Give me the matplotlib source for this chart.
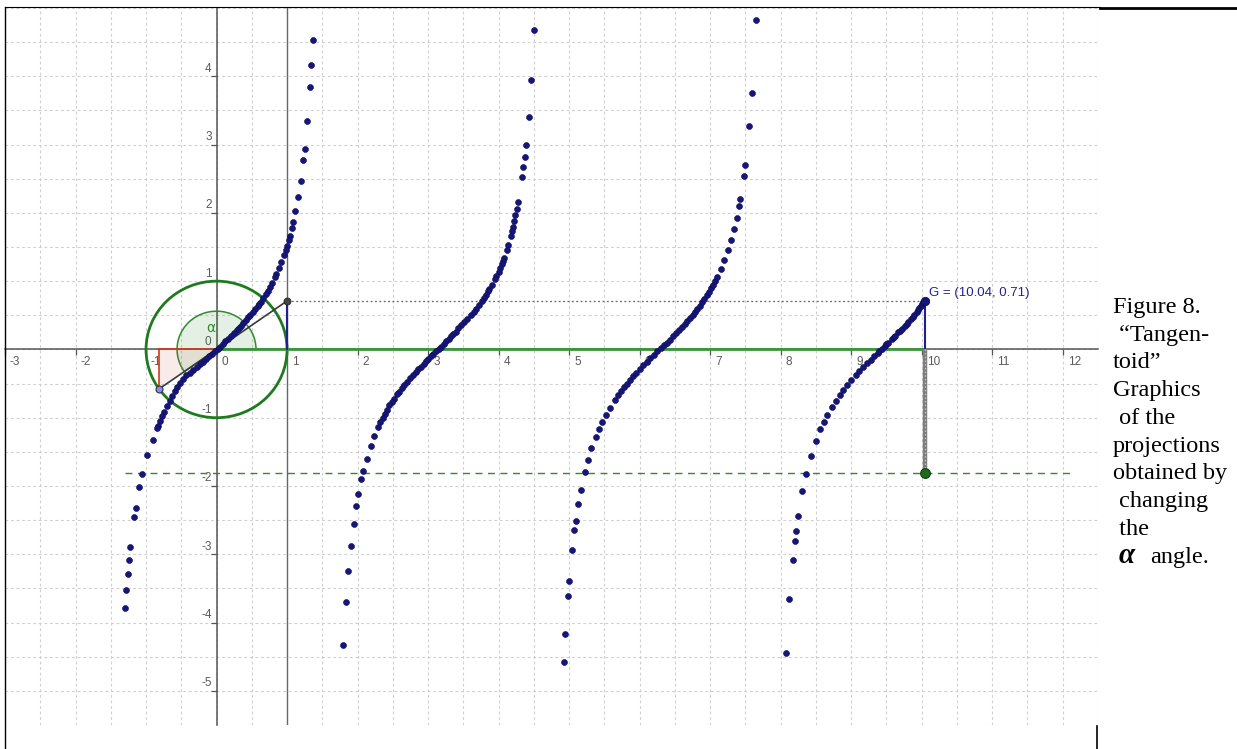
import numpy as np
import matplotlib
matplotlib.use("Agg")
import matplotlib.pyplot as plt
from matplotlib.patches import Circle, Wedge, Polygon
from matplotlib.lines import Line2D

W, H = 1237, 749

# traced points (x = accumulated angle in rad, y = projection on the tangent axis)
branch1 = [(1.366, 4.53), (1.343, 4.16), (1.324, 3.85), (1.286, 3.34), (1.249, 2.94), (1.230, 2.77),
           (1.193, 2.47), (1.155, 2.23), (1.117, 2.03), (1.085, 1.86), (1.066, 1.78), (1.040, 1.66),
           (1.028, 1.60), (1.000, 1.52), (0.985, 1.45), (0.958, 1.39), (0.920, 1.28), (0.880, 1.19),
           (0.850, 1.11), (0.826, 1.06), (0.790, 0.98), (0.756, 0.91), (0.732, 0.86), (0.700, 0.81),
           (0.662, 0.75), (0.630, 0.70), (0.606, 0.66), (0.582, 0.63), (0.545, 0.59), (0.512, 0.545),
           (0.480, 0.51), (0.450, 0.47), (0.418, 0.43), (0.380, 0.38), (0.345, 0.35), (0.324, 0.32),
           (0.290, 0.28), (0.254, 0.24), (0.210, 0.20), (0.160, 0.155), (0.125, 0.12), (0.090, 0.075),
           (0.050, 0.04), (0.020, 0.005), (-0.020, -0.03), (-0.066, -0.066), (-0.100, -0.10),
           (-0.146, -0.136), (-0.190, -0.18), (-0.240, -0.22), (-0.280, -0.26), (-0.333, -0.30),
           (-0.380, -0.34), (-0.427, -0.38), (-0.470, -0.43), (-0.520, -0.49), (-0.560, -0.55),
           (-0.590, -0.61), (-0.630, -0.68), (-0.662, -0.75), (-0.700, -0.83), (-0.742, -0.91),
           (-0.775, -0.98), (-0.803, -1.05), (-0.836, -1.12), (-0.850, -1.15), (-0.906, -1.32),
           (-0.986, -1.55), (-1.061, -1.83), (-1.094, -2.01), (-1.145, -2.32), (-1.169, -2.45),
           (-1.221, -2.90), (-1.239, -3.09), (-1.258, -3.29), (-1.277, -3.52), (-1.296, -3.79)]

branch2 = [(4.503, 4.68), (4.465, 3.95), (4.432, 3.41), (4.394, 3.00), (4.371, 2.82), (4.352, 2.67),
           (4.334, 2.52), (4.282, 2.16), (4.263, 2.06), (4.239, 1.97), (4.225, 1.88), (4.207, 1.80),
           (4.190, 1.73), (4.173, 1.66), (4.134, 1.53), (4.117, 1.46), (4.079, 1.34), (4.062, 1.30),
           (4.046, 1.25), (4.022, 1.19), (4.000, 1.14), (3.970, 1.08), (3.944, 1.03), (3.905, 0.95),
           (3.869, 0.89), (3.845, 0.85), (3.820, 0.80), (3.790, 0.75), (3.765, 0.71), (3.720, 0.65),
           (3.680, 0.59), (3.645, 0.55), (3.610, 0.51), (3.549, 0.44), (3.510, 0.40), (3.469, 0.36),
           (3.430, 0.31), (3.390, 0.25), (3.360, 0.22), (3.328, 0.19), (3.290, 0.15), (3.258, 0.12),
           (3.220, 0.08), (3.187, 0.04), (3.150, 0.01), (3.117, -0.02), (3.072, -0.07), (3.040, -0.10),
           (3.003, -0.14), (2.970, -0.17), (2.935, -0.21), (2.900, -0.25), (2.859, -0.29), (2.825, -0.33),
           (2.787, -0.37), (2.745, -0.42), (2.702, -0.47), (2.664, -0.52), (2.624, -0.57), (2.590, -0.62),
           (2.558, -0.66), (2.520, -0.72), (2.486, -0.77), (2.452, -0.82), (2.420, -0.88), (2.388, -0.94),
           (2.356, -1.00), (2.325, -1.07), (2.295, -1.13), (2.238, -1.27), (2.184, -1.42), (2.129, -1.60),
           (2.083, -1.78), (2.055, -1.90), (2.012, -2.12), (1.981, -2.30), (1.945, -2.55), (1.905, -2.88),
           (1.869, -3.25), (1.835, -3.70), (1.797, -4.33)]

branch3 = [(4.927, -4.58), (4.948, -4.17), (4.983, -3.61), (4.999, -3.39), (5.041, -2.93), (5.073, -2.65),
           (5.091, -2.51), (5.128, -2.27), (5.165, -2.06), (5.219, -1.80), (5.265, -1.62), (5.316, -1.45),
           (5.376, -1.28), (5.419, -1.17), (5.468, -1.06), (5.518, -0.96), (5.573, -0.86), (5.647, -0.74),
           (5.690, -0.67), (5.735, -0.61), (5.780, -0.55), (5.819, -0.50), (5.860, -0.45), (5.911, -0.39),
           (5.955, -0.34), (6.001, -0.29), (6.050, -0.23), (6.105, -0.18), (6.150, -0.13), (6.203, -0.08),
           (6.250, -0.03), (6.303, 0.02), (6.343, 0.06), (6.383, 0.10), (6.427, 0.145), (6.471, 0.19),
           (6.514, 0.235), (6.556, 0.28), (6.597, 0.325), (6.638, 0.37), (6.676, 0.415), (6.714, 0.46),
           (6.750, 0.505), (6.786, 0.55), (6.820, 0.595), (6.852, 0.64), (6.886, 0.69), (6.919, 0.74),
           (6.951, 0.79), (6.982, 0.84), (7.013, 0.895), (7.043, 0.95), (7.071, 1.005), (7.098, 1.06),
           (7.151, 1.18), (7.202, 1.31), (7.250, 1.45), (7.295, 1.60), (7.337, 1.76), (7.376, 1.93),
           (7.409, 2.10), (7.429, 2.21), (7.479, 2.54), (7.499, 2.70), (7.557, 3.27), (7.594, 3.76),
           (7.650, 4.83)]

branch4 = [(8.076, -4.44), (8.121, -3.66), (8.168, -3.08), (8.197, -2.80), (8.214, -2.66), (8.243, -2.44),
           (8.303, -2.08), (8.357, -1.82), (8.424, -1.56), (8.495, -1.34), (8.561, -1.17), (8.610, -1.06),
           (8.660, -0.96), (8.721, -0.85), (8.782, -0.75), (8.835, -0.67), (8.885, -0.60), (8.946, -0.52),
           (9.002, -0.45), (9.062, -0.38), (9.115, -0.32), (9.171, -0.26), (9.228, -0.20), (9.276, -0.15),
           (9.325, -0.10), (9.375, -0.05), (9.400, -0.025), (9.435, 0.01), (9.475, 0.05), (9.500, 0.075),
           (9.525, 0.10), (9.574, 0.15), (9.600, 0.175), (9.622, 0.20), (9.670, 0.25), (9.695, 0.275),
           (9.717, 0.30), (9.762, 0.35), (9.785, 0.375), (9.806, 0.40), (9.848, 0.45), (9.870, 0.475),
           (9.889, 0.50), (9.928, 0.55), (9.947, 0.575), (9.965, 0.60), (9.987, 0.63), (10.008, 0.66),
           (10.025, 0.69)]

# current position of the moving point
g_x, g_y = 10.04, 0.71
alpha_deg = 215.37          # angle alpha, tan(alpha) = g_y
proj_y = -1.81              # level of the green projection line

x_ticks = list(range(-3, 13))
y_ticks = [-5, -4, -3, -2, -1, 0, 1, 2, 3, 4]

caption_lines = ["Figure 8.", " \u201cTangen-", "toid\u201d", "Graphics", " of the",
                 "projections", "obtained by", " changing", " the"]
caption_last = "angle."

navy = "#15157a"
green = "#1f7a1f"
axis_grey = "#555555"

fig = plt.figure(figsize=(W / 100, H / 100), dpi=100)
ax = fig.add_axes([5 / W, 24 / H, 1093 / W, 717 / H])
ax.set_xlim(-2.915, 12.479)
ax.set_ylim(-5.183, 4.915)

# grid every half unit, axes through the origin
ax.set_xticks(x_ticks)
ax.set_yticks(y_ticks)
ax.set_xticks(np.arange(-3, 12.6, 0.5), minor=True)
ax.set_yticks(np.arange(-5.5, 5.1, 0.5), minor=True)
ax.grid(True, which="both", color="#cfcfcf", lw=0.8, linestyle=(0, (2.5, 2.5)))
ax.set_axisbelow(True)
for s in ["top", "right"]:
    ax.spines[s].set_visible(False)
for s in ["left", "bottom"]:
    ax.spines[s].set_position("zero")
    ax.spines[s].set_color(axis_grey)
    ax.spines[s].set_linewidth(1.1)
ax.tick_params(which="major", direction="out", length=4.3, width=0.9, color=axis_grey,
               labelbottom=False, labelleft=False)
ax.tick_params(which="minor", length=0)

lab = dict(fontsize=8.5, color="#5a5a5a", family="Liberation Sans")
for k in x_ticks:
    ax.text(k + 0.07, -0.18, str(k), ha="left", va="center", **lab)
for k in y_ticks:
    ax.text(-0.07, k + 0.11, str(k), ha="right", va="center", **lab)

# tangent line x = 1
ax.axvline(1, color="#666666", lw=1, zorder=2)

# unit circle, angle and triangle
a = np.radians(alpha_deg)
px, py = np.cos(a), np.sin(a)
ax.add_patch(Wedge((0, 0), 0.56, 0, alpha_deg, fc="#2e8b2e", alpha=0.12, ec="none", zorder=3))
ax.add_patch(Wedge((0, 0), 0.56, 0, alpha_deg, fill=False, ec="#2e8b2e", lw=1.1, zorder=3))
ax.add_patch(Polygon([(0, 0), (px, 0), (px, py)], closed=True, fc="#c8402a", alpha=0.1, ec="none", zorder=3))
ax.plot([px, 0], [0, 0], color="#cc3a1a", lw=1.2, zorder=4)
ax.plot([px, px], [0, py], color="#cc3a1a", lw=1.2, zorder=4)
ax.add_patch(Circle((0, 0), 1, fill=False, ec=green, lw=2, zorder=4))
ax.text(-0.085, 0.31, "\u03b1", color="#2e8b2e", fontsize=10, ha="center", va="center",
        family="DejaVu Sans", zorder=5)

# green segment on the x axis up to the current angle
ax.plot([0, g_x], [0, 0], color="#3a963a", lw=2, solid_capstyle="butt", zorder=4)
ax.plot([-1.3, 12.1], [proj_y, proj_y], color="#2f8a2f", lw=1, dashes=(5, 4), zorder=4)

# line through origin to the tangent axis
ax.plot([px, 1], [py, g_y], color="#3a3a3a", lw=1.2, zorder=5)
ax.plot([1, 1], [0, g_y], color="#1f1f8f", lw=1.5, zorder=5)
ax.plot([1, g_x], [g_y, g_y], color="#666666", lw=0.9, dashes=(1.5, 2), zorder=5)
ax.plot([g_x, g_x], [0, g_y], color="#1f1f8f", lw=1.5, zorder=5)
ax.plot([g_x, g_x], [0, proj_y], color="#7d7d7d", lw=3.2, solid_capstyle="butt", zorder=5)
ax.plot([g_x, g_x], [0, proj_y], color="#c4c4c4", lw=1, linestyle=":", zorder=5)

# traced tangentoid
for br in [branch1, branch2, branch3, branch4]:
    pts = np.array(br)
    ax.plot(pts[:, 0], pts[:, 1], "o", ms=4.3, color=navy, mec="#0c0c55", mew=0.4, zorder=6)

# points
ax.plot([px], [py], "o", ms=5, color="#8a8aff", mec="#333333", mew=0.8, zorder=7)
ax.plot([1], [g_y], "o", ms=5, color="#444444", mec="#222222", mew=0.6, zorder=7)
ax.plot([g_x], [g_y], "o", ms=6, color=navy, mec="#0c0c55", mew=0.6, zorder=7)
ax.plot([g_x], [proj_y], "o", ms=7, color="#1e6b1e", mec="#0f3f0f", mew=0.8, zorder=7)
ax.text(g_x + 0.07, g_y + 0.12, "G = (10.04, 0.71)", color="#23238a", fontsize=9.5,
        family="Liberation Sans", ha="left", va="center", zorder=7)


def fig_line(x0, y0, x1, y1, lw):
    fig.add_artist(Line2D([x0 / W, x1 / W], [1 - y0 / H, 1 - y1 / H],
                          transform=fig.transFigure, color="black", lw=lw))


# page borders around the picture
fig_line(5, 7, 1100, 7, 0.8)
fig_line(1100, 8, 1237, 8, 2.0)
fig_line(5, 7, 5, 749, 1.0)
fig_line(1097, 726, 1097, 749, 1.2)

# caption column
serif = dict(family="Liberation Serif", fontsize=17.5, color="black", va="baseline", ha="left")
base = [313, 341, 368, 396, 424, 452, 479, 507, 535]
for txt, yb in zip(caption_lines, base):
    fig.text(1113 / W, 1 - yb / H, txt, **serif)
fig.text(1119 / W, 1 - 563 / H, "\u03b1", family="Liberation Serif", fontsize=21,
         style="italic", weight="bold", va="baseline", ha="left")
fig.text(1150 / W, 1 - 563 / H, caption_last, **serif)

fig.savefig("out.png", dpi=100)
